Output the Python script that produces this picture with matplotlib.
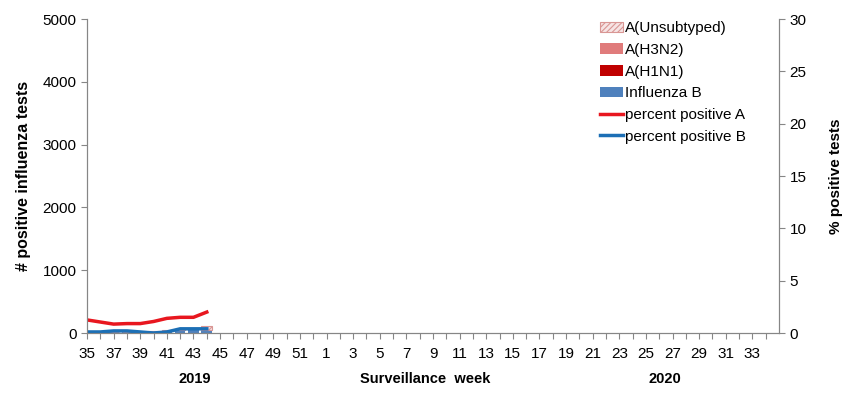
import numpy as np
import matplotlib
matplotlib.use('Agg')
import matplotlib.pyplot as plt

plt.rcParams['font.family'] = ['Liberation Sans', 'DejaVu Sans']
plt.rcParams['hatch.linewidth'] = 0.8

# surveillance weeks, season 2019/20
weeks = list(range(35, 53)) + list(range(1, 35))

# counts of positive tests (only reported up to week 44)
unsubtyped = [0, 0, 0, 0, 0, 20, 20, 15, 10, 50]
h3n2 = [0, 0, 0, 0, 0, 0, 0, 0, 0, 0]
h1n1 = [0, 0, 0, 0, 0, 0, 0, 0, 0, 0]
flu_b = [5, 5, 10, 10, 5, 10, 25, 55, 60, 55]

# percent positive
pct_a = [1.25, 1.05, 0.85, 0.9, 0.9, 1.1, 1.4, 1.5, 1.5, 2.0]
pct_b = [0.1, 0.1, 0.2, 0.2, 0.1, 0.0, 0.1, 0.4, 0.4, 0.4]

fig = plt.figure(figsize=(8.59, 3.97), dpi=100)
ax = fig.add_axes([0.1013, 0.1612, 0.8056, 0.7908])
ax2 = ax.twinx()

n = len(unsubtyped)
x = np.arange(n)
w = 0.8
fb = np.array(flu_b)
h1 = np.array(h1n1)
h3 = np.array(h3n2)
un = np.array(unsubtyped)

ax.bar(x, fb, w, color='#4f81bd', label='Influenza B', zorder=2)
ax.bar(x, h1, w, bottom=fb, color='#c00000', label='A(H1N1)', zorder=2)
ax.bar(x, h3, w, bottom=fb + h1, color='#e07b7b', label='A(H3N2)', zorder=2)
ax.bar(x, un, w, bottom=fb + h1 + h3, facecolor='#f6e4e4', edgecolor='#d99694',
       hatch='//////', linewidth=0.8, label='A(Unsubtyped)', zorder=2)

ax2.plot(x, pct_a, color='#e8171f', lw=2.5, label='percent positive A')
ax2.plot(x, pct_b, color='#1c6fb5', lw=2.5, label='percent positive B')

ax.set_xlim(0, len(weeks))
ax.set_ylim(0, 5000)
ax2.set_ylim(0, 30)
ax.set_yticks(range(0, 5001, 1000))
ax2.set_yticks(range(0, 31, 5))

ax.set_xticks(np.arange(len(weeks)))
ax.set_xticklabels([str(wk) if i % 2 == 0 else '' for i, wk in enumerate(weeks)])

for a in (ax, ax2):
    a.spines['top'].set_visible(False)
    for s in ('left', 'right', 'bottom'):
        a.spines[s].set_color('#868686')
    a.tick_params(colors='#868686', labelcolor='black', labelsize=11, length=4)
ax.tick_params(axis='x', length=4, pad=6)

ax.set_ylabel('# positive influenza tests', fontsize=11.5, fontweight='bold', labelpad=8)
ax2.set_ylabel('% positive tests', fontsize=11, fontweight='bold', labelpad=16)

fig.text(195 / 859, 1 - 379 / 397, '2019', ha='center', va='center',
         fontsize=10.5, fontweight='bold')
fig.text(425 / 859, 1 - 379 / 397, 'Surveillance  week', ha='center', va='center',
         fontsize=10.5, fontweight='bold')
fig.text(665 / 859, 1 - 379 / 397, '2020', ha='center', va='center',
         fontsize=10.5, fontweight='bold')

h_bar, l_bar = ax.get_legend_handles_labels()
h_ln, l_ln = ax2.get_legend_handles_labels()
handles = h_bar[::-1] + h_ln
labels = l_bar[::-1] + l_ln
ax2.legend(handles, labels, loc='upper left', bbox_to_anchor=(0.733, 1.012),
           frameon=False, fontsize=11, handlelength=1.5, handletextpad=0.1,
           labelspacing=0.5, borderaxespad=0)

fig.savefig('out.png', dpi=100)
